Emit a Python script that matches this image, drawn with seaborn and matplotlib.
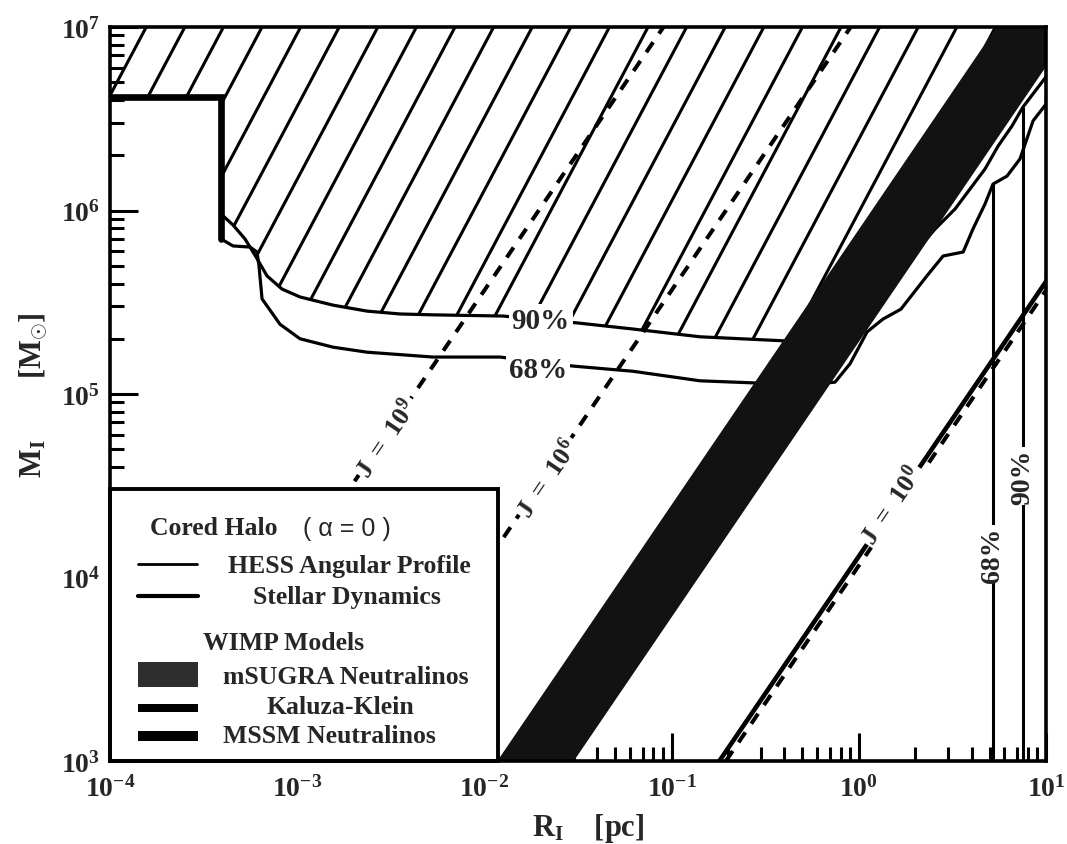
import numpy as np
import matplotlib
matplotlib.use("Agg")
import matplotlib.pyplot as plt
import seaborn as sns
from matplotlib.patches import Polygon, Rectangle
from matplotlib.lines import Line2D
from matplotlib.collections import LineCollection
from matplotlib.ticker import LogLocator, NullFormatter

# ---------------- data (R in pc, M in solar masses) ----------------
hess90_R = [3.917e-4, 4.54e-4, 5.26e-4, 6.03e-4, 6.90e-4, 8.30e-4, 1.035e-3,
            1.552e-3, 2.36e-3, 3.54e-3, 5.31e-3, 1.256e-2, 3.13e-2, 6.22e-2,
            0.1419, 0.3936, 0.794, 0.920, 1.469, 2.070, 2.553, 3.266, 4.721,
            5.546, 6.577, 7.534, 10.0]
hess90_M = [9.57e5, 8.34e5, 7.00e5, 5.58e5, 4.40e5, 3.73e5, 3.38e5,
            3.05e5, 2.83e5, 2.73e5, 2.70e5, 2.66e5, 2.44e5, 2.26e5,
            2.05e5, 1.95e5, 1.87e5, 1.87e5, 3.73e5, 6.17e5, 7.92e5, 1.019e6, 1.683e6,
            2.244e6, 2.884e6, 3.664e6, 5.35e6]

hess68_R = [3.917e-4, 4.54e-4, 5.60e-4, 6.10e-4, 6.25e-4, 6.49e-4, 8.09e-4, 1.035e-3,
            1.552e-3, 2.36e-3, 5.31e-3, 1.211e-2, 2.97e-2, 6.22e-2, 0.1419, 0.2723,
            0.501, 0.746, 0.897, 1.107, 1.346, 1.679, 2.31, 2.82, 3.61, 4.07, 4.72,
            5.21, 6.19, 7.26, 8.53, 10.0]
hess68_M = [7.00e5, 6.41e5, 6.32e5, 5.94e5, 4.99e5, 3.30e5, 2.40e5, 2.00e5,
            1.80e5, 1.69e5, 1.59e5, 1.59e5, 1.42e5, 1.33e5, 1.18e5, 1.15e5,
            1.12e5, 1.16e5, 1.46e5, 2.18e5, 2.56e5, 2.90e5, 4.40e5, 5.65e5, 5.94e5,
            7.92e5, 1.084e6, 1.393e6, 1.54e6, 1.91e6, 3.08e6, 3.80e6]

# HESS source-size limits (vertical lines)
v68_R = [5.21, 5.21]
v68_M = [1.393e6, 1e3]
v90_R = [7.534, 7.534]
v90_M = [3.664e6, 1e3]

# stellar dynamics limit (black hole mass step)
stellar_R = [1e-4, 3.917e-4, 3.917e-4]
stellar_M = [4.155e6, 4.155e6, 7.0e5]

# mSUGRA neutralino band
band_R = [1e-3, 20.0]
band_lo = [6.07, 1.72e7]
band_hi = [24.9, 7.05e7]

# J = const lines
j_names = ["9", "6", "0"]
j_R = [[1.95e-4, 0.0905], [1.95e-3, 0.905], [0.195, 10.0]]
j_M = [[1e3, 1e7], [1e3, 1e7], [1e3, 3.67e5]]
j_lab_R = [2.94e-3, 0.0211, 1.468]
j_lab_M = [5.86e4, 3.56e4, 2.52e4]

# solid model line next to J = 10^0
model_R = [0.180, 10.0]
model_M = [1e3, 4.10e5]

x_ticks = [1e-4, 1e-3, 1e-2, 1e-1, 1e0, 1e1]
x_ticklabels = [r"$\mathbf{10^{-4}}$", r"$\mathbf{10^{-3}}$", r"$\mathbf{10^{-2}}$",
                r"$\mathbf{10^{-1}}$", r"$\mathbf{10^{0}}$", r"$\mathbf{10^{1}}$"]
y_ticks = [1e3, 1e4, 1e5, 1e6, 1e7]
y_ticklabels = [r"$\mathbf{10^{3}}$", r"$\mathbf{10^{4}}$", r"$\mathbf{10^{5}}$",
                r"$\mathbf{10^{6}}$", r"$\mathbf{10^{7}}$"]

# ---------------- style ----------------
sns.set_theme(style="white")
plt.rcParams["font.family"] = ["Liberation Serif", "DejaVu Serif"]
plt.rcParams["font.weight"] = "bold"
plt.rcParams["axes.labelweight"] = "bold"
plt.rcParams["mathtext.fontset"] = "custom"
plt.rcParams["mathtext.rm"] = "Liberation Serif:bold"
plt.rcParams["mathtext.bf"] = "Liberation Serif:bold"
plt.rcParams["mathtext.it"] = "Liberation Serif:bold"
plt.rcParams["axes.unicode_minus"] = True

fig = plt.figure(figsize=(10.67, 8.45), dpi=100)
ax = fig.add_axes([0.10309, 0.09822, 0.87723, 0.86864])
ax.set_xscale("log")
ax.set_yscale("log")
ax.set_xlim(1e-4, 10)
ax.set_ylim(1e3, 1e7)

# ---------------- hatched excluded region ----------------
n_h = 18
poly_R = [1e-4, 1e-4] + stellar_R[1:2] + hess90_R[:n_h] + [10.0]
poly_M = [1e7, stellar_M[0]] + stellar_M[1:2] + hess90_M[:n_h] + [1e7]
hatch_patch = Polygon(np.column_stack([poly_R, poly_M]), closed=True,
                      transform=ax.transData, fc="none", ec="none")
segs = []
for k in range(0, 27):
    xt = (37 + 38.6 * k) / 936.0
    segs.append([(xt + 0.02, 1.05), (xt - 0.4171 - 0.02, -0.05)])
lc = LineCollection(segs, transform=ax.transAxes, colors="black",
                    linewidths=2.2, zorder=1.6)
ax.add_collection(lc, autolim=False)
lc.set_clip_path(hatch_patch)

# ---------------- curves ----------------
for R, M in [(hess90_R, hess90_M), (hess68_R, hess68_M)]:
    sns.lineplot(x=np.array(R), y=np.array(M), sort=False, estimator=None,
                 color="black", linewidth=2.3, ax=ax, zorder=2, legend=False)
for R, M in [(v68_R, v68_M), (v90_R, v90_M)]:
    ax.plot(R, M, color="black", lw=2.2, zorder=2, solid_capstyle="butt")
ax.plot(stellar_R, stellar_M, color="black", lw=4.8, zorder=2.2,
        solid_joinstyle="miter")

# band
ax.fill_between(band_R, band_lo, band_hi, color="#121212", lw=0, zorder=3)

# J lines
for R, M in zip(j_R, j_M):
    ax.plot(R, M, color="black", lw=2.9, ls=(0, (3.0, 2.6)), zorder=3.5)
ax.plot(model_R, model_M, color="black", lw=3.3, zorder=3.4)

for name, R, M in zip(j_names, j_lab_R, j_lab_M):
    ax.text(R, M, r"$\mathbf{J\ =\ 10^{%s}}$" % name, fontsize=19,
            rotation=55.8, rotation_mode="anchor", ha="center", va="center_baseline",
            zorder=5, bbox=dict(fc="white", ec="none", pad=1.5))

# percent labels
ax.text(0.0200, 2.60e5, "90%", fontsize=21, ha="center", va="center_baseline",
        zorder=5, bbox=dict(fc="white", ec="none", pad=2))
ax.text(0.0193, 1.42e5, "68%", fontsize=21, ha="center", va="center_baseline",
        zorder=5, bbox=dict(fc="white", ec="none", pad=2))
ax.text(5.21, 1.34e4, "68%", fontsize=20, rotation=90, ha="center", va="center",
        zorder=5, bbox=dict(fc="white", ec="none", pad=1))
ax.text(7.534, 3.57e4, "90%", fontsize=20, rotation=90, ha="center", va="center",
        zorder=5, bbox=dict(fc="white", ec="none", pad=1))

# ---------------- axes styling ----------------
for s in ax.spines.values():
    s.set_linewidth(2.6)
    s.set_color("black")
    s.set_zorder(6.5)
ax.set_xticks(x_ticks)
ax.set_xticklabels(x_ticklabels, fontsize=20)
ax.set_yticks(y_ticks)
ax.set_yticklabels(y_ticklabels, fontsize=20)
ax.xaxis.set_minor_locator(LogLocator(base=10, subs=np.arange(2, 10), numticks=30))
ax.yaxis.set_minor_locator(LogLocator(base=10, subs=np.arange(2, 10), numticks=30))
ax.xaxis.set_minor_formatter(NullFormatter())
ax.yaxis.set_minor_formatter(NullFormatter())
ax.tick_params(which="both", direction="in", top=False, right=False,
               left=True, bottom=True, color="black")
ax.tick_params(which="major", length=20, width=2.2)
ax.tick_params(which="minor", length=10, width=2.2)
ax.tick_params(axis="x", which="major", pad=10)
ax.tick_params(axis="y", which="major", pad=7)

ax.set_xlabel(r"R$_{\mathbf{I}}$    [pc]", fontsize=22, fontweight="bold")
ax.xaxis.set_label_coords(0.511, -0.068)
ax.set_ylabel(r"M$_{\mathbf{I}}$        [M$_{\odot}$]", fontsize=22,
              fontweight="bold", labelpad=8)

# ---------------- legend box ----------------
T = ax.transAxes
ax.add_patch(Rectangle((0, 0), 0.4145, 0.3706, transform=T, fc="white", ec="black",
                       lw=2.8, zorder=6, clip_on=False))
ax.text(0.0427, 0.3188, "Cored Halo", transform=T, fontsize=18.5, ha="left",
        va="center", zorder=7)
ax.text(0.2062, 0.3175, "( α = 0 )", transform=T, fontsize=18, ha="left",
        va="center", zorder=7, family="Liberation Sans", weight="normal")
ax.add_line(Line2D([0.0299, 0.0929], [0.2684, 0.2684], transform=T, color="black",
                   lw=2.0, zorder=7))
ax.text(0.1261, 0.2657, "HESS Angular Profile", transform=T, fontsize=18.5,
        ha="left", va="center", zorder=7)
ax.add_line(Line2D([0.0299, 0.0940], [0.2248, 0.2248], transform=T, color="black",
                   lw=3.0, zorder=7))
ax.text(0.1528, 0.2248, "Stellar Dynamics", transform=T, fontsize=18.5,
        ha="left", va="center", zorder=7)
ax.text(0.0994, 0.1621, "WIMP Models", transform=T, fontsize=18.5,
        ha="left", va="center", zorder=7)
ax.add_patch(Rectangle((0.0299, 0.1008), 0.0641, 0.0341, transform=T,
                       fc="#2e2e2e", ec="none", zorder=7))
ax.text(0.1207, 0.1158, "mSUGRA Neutralinos", transform=T, fontsize=18.5,
        ha="left", va="center", zorder=7)
ax.add_patch(Rectangle((0.0299, 0.0668), 0.0641, 0.0109, transform=T,
                       fc="black", ec="none", zorder=7))
ax.text(0.1677, 0.0749, "Kaluza-Klein", transform=T, fontsize=18.5,
        ha="left", va="center", zorder=7)
ax.add_patch(Rectangle((0.0299, 0.0273), 0.0641, 0.0136, transform=T,
                       fc="black", ec="none", zorder=7))
ax.text(0.1207, 0.0341, "MSSM Neutralinos", transform=T, fontsize=18.5,
        ha="left", va="center", zorder=7)

fig.savefig("out.png", dpi=100)
